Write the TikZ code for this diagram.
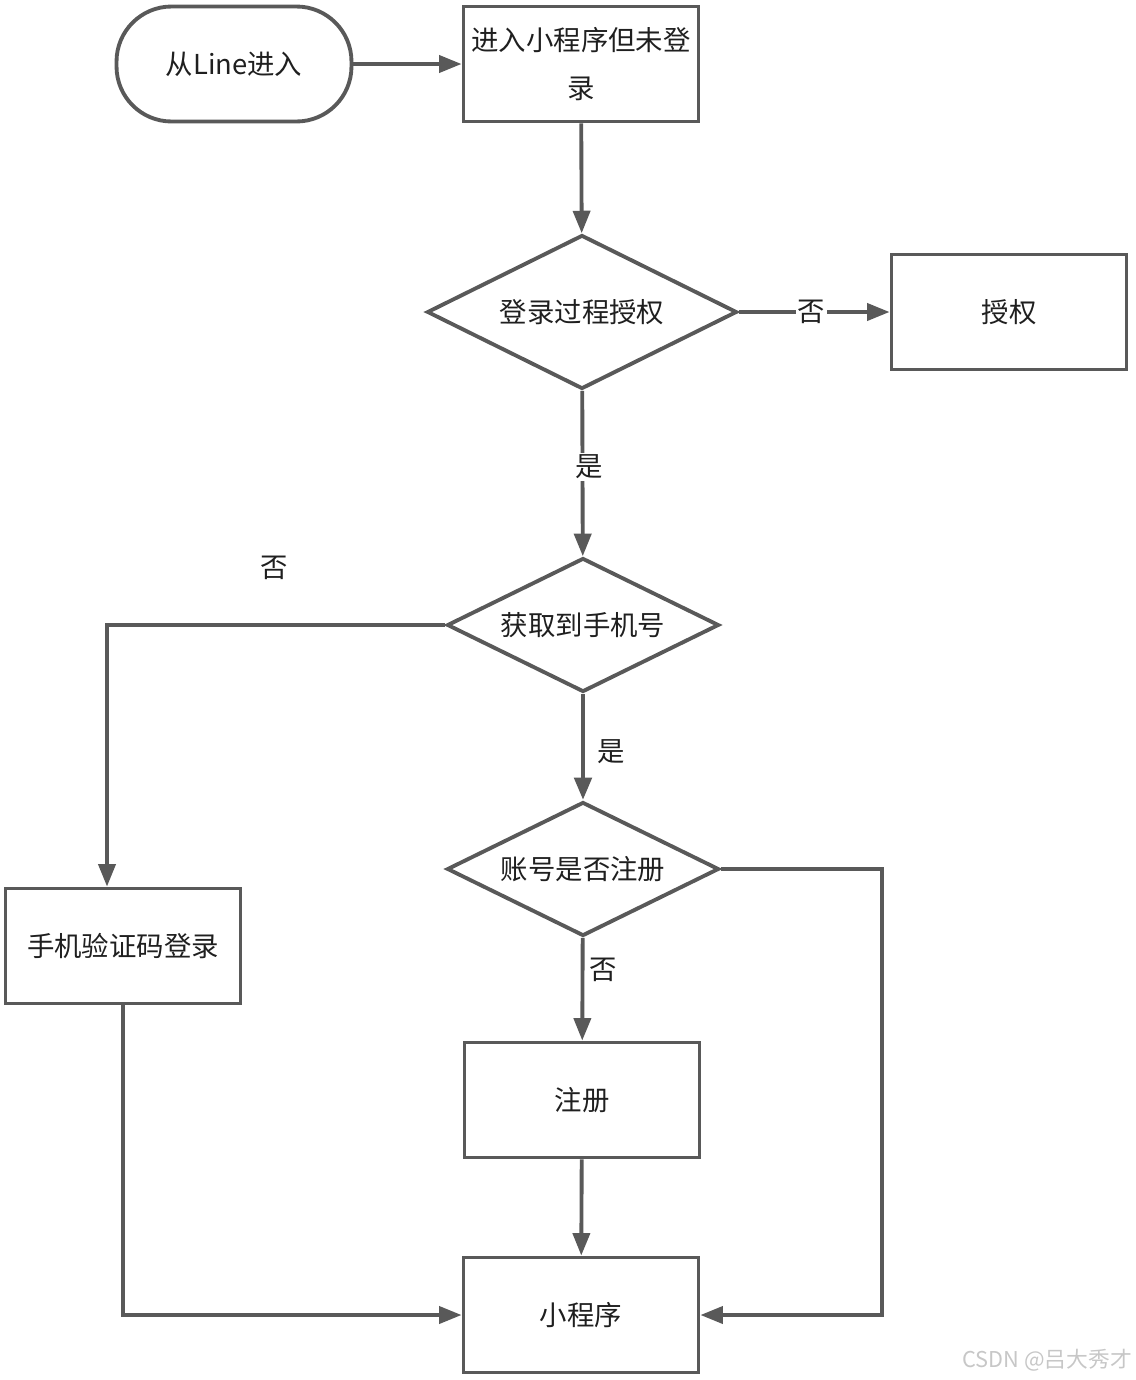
\documentclass[tikz,border=0pt]{standalone}
\usepackage{fontspec}
\setmainfont{Noto Sans CJK SC}
\usetikzlibrary{shapes.geometric,arrows.meta}
\definecolor{linegray}{HTML}{595959}
\definecolor{textgray}{HTML}{1f1f1f}

\begin{document}
\begin{tikzpicture}[x=0.02cm, y=-0.02cm,
    every node/.style={text=textgray, font=\fontsize{15.6}{27}\selectfont},
    box/.style={draw=linegray, line width=2.2pt, minimum width=4.7cm, minimum height=2.3cm, align=center, inner sep=0pt},
    terminal/.style={box, rounded corners=1.1cm},
    decision/.style={diamond, aspect=2, draw=linegray, line width=2.2pt, inner sep=0pt},
    arr/.style={draw=linegray, line width=2.2pt, -{Triangle[length=0.45cm, width=0.34cm]}},
    lbl/.style={fill=white, inner sep=1pt}]
    \useasboundingbox (0,0) rectangle (1136,1380);
    % nodes
    \node[terminal] (line) at (234,64) {从Line进入};
    \node[box] (enter) at (581,64) {进入小程序但未登\\录};
    \node[decision, minimum width=6.2cm, minimum height=3.08cm] (auth?) at (582,312) {登录过程授权};
    \node[box] (auth) at (1009,312) {授权};
    \node[decision, minimum width=5.44cm, minimum height=2.68cm] (phone?) at (583,625) {获取到手机号};
    \node[decision, minimum width=5.44cm, minimum height=2.68cm] (registered?) at (583,869) {账号是否注册};
    \node[box] (smslogin) at (123,946) {手机验证码登录};
    \node[box] (register) at (582,1100) {注册};
    \node[box] (mini) at (581,1315) {小程序};
    % connectors
    \draw[arr] (line) -- (enter);
    \draw[arr] (enter) -- (auth?);
    \draw[arr] (auth?) -- node[lbl, pos=0.48] (no1) {否} (auth);
    \draw[arr] (auth?) -- node[lbl, pos=0.46, xshift=0.14cm] (yes1) {是} (phone?);
    \draw[arr] (phone?.west) -| ([xshift=-0.32cm]smslogin.north);
    \node (no2) at (274,568) {否};
    \draw[arr, line width=2.8pt] (phone?) -- (registered?);
    \node (yes2) at (611,752) {是};
    \draw[arr] (registered?) -- (register);
    \node (no3) at (603,970) {否};
    \draw[arr] (registered?.east) -- ++(161,0) |- (mini.east);
    \draw[arr] (register) -- (mini);
    \draw[arr] (smslogin.south) |- (mini.west);
    \node[text=black!22, font=\fontsize{12.4}{14}\selectfont] (mark) at (1047,1360) {CSDN @吕大秀才};
\end{tikzpicture}
\end{document}
